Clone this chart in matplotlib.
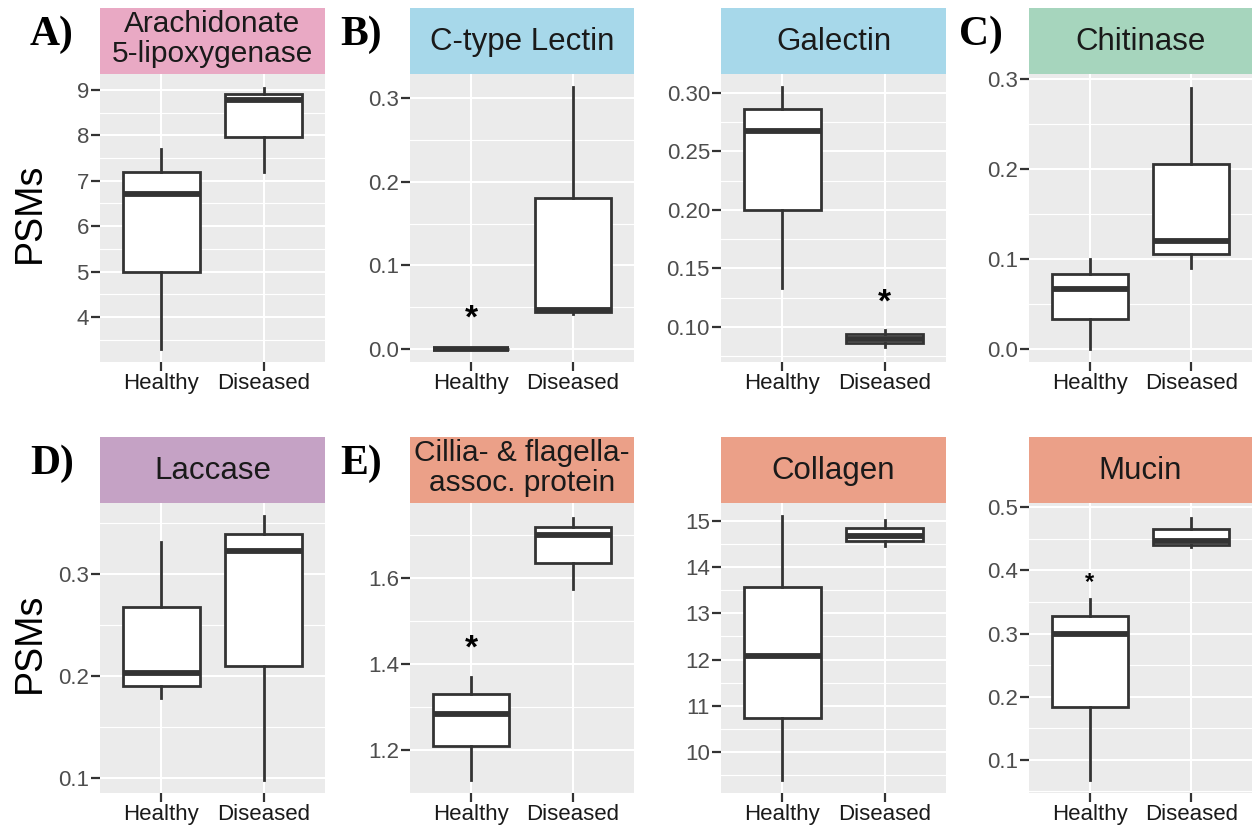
import matplotlib
matplotlib.use("Agg")
import matplotlib.pyplot as plt
from matplotlib.ticker import AutoMinorLocator, FixedLocator

# ---------------- data ----------------
groups = ["Healthy", "Diseased"]

titles = ["Arachidonate\n5-lipoxygenase", "C-type Lectin", "Galectin", "Chitinase",
          "Laccase", "Cillia- & flagella-\nassoc. protein", "Collagen", "Mucin"]
panel_letters = ["A)", "B)", None, "C)", "D)", "E)", None, None]
strip_colors = ["#E9A9C4", "#A7D8EA", "#A7D8EA", "#A6D5BD",
                "#C5A2C5", "#EBA088", "#EBA088", "#EBA088"]

# per group: [whisker low, Q1, median, Q3, whisker high]
arachidonate_healthy = [3.30, 5.00, 6.70, 7.20, 7.70]
arachidonate_diseased = [7.20, 7.97, 8.77, 8.92, 9.05]
ctype_healthy = [0.0, 0.0, 0.0, 0.0, 0.0]
ctype_diseased = [0.042, 0.044, 0.047, 0.181, 0.313]
galectin_healthy = [0.133, 0.200, 0.267, 0.286, 0.305]
galectin_diseased = [0.083, 0.086, 0.090, 0.094, 0.097]
chitinase_healthy = [0.000, 0.033, 0.067, 0.083, 0.100]
chitinase_diseased = [0.090, 0.105, 0.120, 0.205, 0.290]
laccase_healthy = [0.178, 0.190, 0.203, 0.268, 0.332]
laccase_diseased = [0.098, 0.210, 0.323, 0.340, 0.357]
cilia_healthy = [1.13, 1.21, 1.285, 1.33, 1.37]
cilia_diseased = [1.575, 1.635, 1.700, 1.720, 1.740]
collagen_healthy = [9.40, 10.73, 12.07, 13.58, 15.10]
collagen_diseased = [14.45, 14.57, 14.67, 14.85, 15.02]
mucin_healthy = [0.068, 0.183, 0.300, 0.327, 0.354]
mucin_diseased = [0.437, 0.441, 0.447, 0.465, 0.483]

series = [
    (arachidonate_healthy, arachidonate_diseased),
    (ctype_healthy, ctype_diseased),
    (galectin_healthy, galectin_diseased),
    (chitinase_healthy, chitinase_diseased),
    (laccase_healthy, laccase_diseased),
    (cilia_healthy, cilia_diseased),
    (collagen_healthy, collagen_diseased),
    (mucin_healthy, mucin_diseased),
]

y_ticks = [
    [4, 5, 6, 7, 8, 9],
    [0.0, 0.1, 0.2, 0.3],
    [0.10, 0.15, 0.20, 0.25, 0.30],
    [0.0, 0.1, 0.2, 0.3],
    [0.1, 0.2, 0.3],
    [1.2, 1.4, 1.6],
    [10, 11, 12, 13, 14, 15],
    [0.1, 0.2, 0.3, 0.4, 0.5],
]
y_tick_fmt = ["{:.0f}", "{:.1f}", "{:.2f}", "{:.1f}", "{:.1f}", "{:.1f}", "{:.0f}", "{:.1f}"]
y_limits = [(3.01, 9.35), (-0.0155, 0.329), (0.070, 0.316), (-0.0145, 0.3055),
            (0.085, 0.370), (1.10, 1.775), (9.11, 15.39), (0.047, 0.507)]

# significance markers: (group index, y value, size)
stars = [None, (0, 0.036, 24), (1, 0.120, 24), None,
         None, (0, 1.434, 24), None, (0, 0.381, 17)]

# ---------------- layout (pixels) ----------------
W, H = 1253, 831
fig = plt.figure(figsize=(W / 100, H / 100), dpi=100)
fig.patch.set_facecolor("white")

cols = [(100, 325), (410, 634), (721, 946), (1029, 1252)]
rows = [(8, 74, 362), (437, 503, 793)]  # strip top, panel top, panel bottom

FONT = "Liberation Sans"
BOXC = "#333333"


def ax_rect(x0, x1, ytop, ybot):
    return [x0 / W, 1 - ybot / H, (x1 - x0) / W, (ybot - ytop) / H]


for i in range(8):
    r, c = divmod(i, 4)
    x0, x1 = cols[c]
    st, pt, pb = rows[r]

    # strip
    sax = fig.add_axes(ax_rect(x0, x1, st, pt))
    sax.set_facecolor(strip_colors[i])
    sax.set_xticks([]); sax.set_yticks([])
    for s in sax.spines.values():
        s.set_visible(False)
    two_lines = "\n" in titles[i]
    sax.text(0.5, 0.53 if two_lines else 0.48, titles[i], ha="center", va="center",
             fontsize=21.5 if two_lines else 22.5,
             family=FONT, color="#1A1A1A", linespacing=1.13, transform=sax.transAxes)

    # panel
    ax = fig.add_axes(ax_rect(x0, x1, pt, pb))
    ax.set_facecolor("#EBEBEB")
    for s in ax.spines.values():
        s.set_visible(False)
    ax.set_xlim(0.4, 2.6)
    ax.set_ylim(*y_limits[i])
    ax.yaxis.set_major_locator(FixedLocator(y_ticks[i]))
    ax.yaxis.set_minor_locator(AutoMinorLocator(2))
    ax.set_yticklabels([y_tick_fmt[i].format(v) for v in y_ticks[i]])
    ax.grid(True, which="major", color="white", lw=1.5)
    ax.grid(True, which="minor", axis="y", color="white", lw=0.8)
    ax.set_axisbelow(True)
    ax.tick_params(axis="both", which="major", length=6.5, width=1.6, color=BOXC,
                   labelsize=16, pad=1.5)
    ax.tick_params(axis="y", which="minor", length=0)
    ax.tick_params(axis="y", labelcolor="#4D4D4D")
    ax.tick_params(axis="x", labelcolor="#1A1A1A")

    stats = []
    for g, vals in zip(groups, series[i]):
        lo, q1, med, q3, hi = vals
        stats.append(dict(label=g, whislo=lo, q1=q1, med=med, q3=q3, whishi=hi, fliers=[]))
    ax.bxp(stats, positions=[1, 2], widths=0.75, showcaps=False, showfliers=False,
           patch_artist=True,
           boxprops=dict(facecolor="white", edgecolor=BOXC, linewidth=2.0),
           whiskerprops=dict(color=BOXC, linewidth=2.0),
           medianprops=dict(color=BOXC, linewidth=4.2, solid_capstyle="butt"))
    ax.set_xticks([1, 2])
    ax.set_xticklabels(groups)
    for lab in ax.get_xticklabels() + ax.get_yticklabels():
        lab.set_family(FONT)

    if stars[i] is not None:
        gi, yv, sz = stars[i]
        ax.text(gi + 1, yv, "*", ha="center", va="center", fontsize=sz,
                family=FONT, fontweight="bold", color="black")

    if panel_letters[i]:
        fig.text((x0 - 70) / W, 1 - (st + 27) / H, panel_letters[i], fontsize=30,
                 family="Liberation Serif", fontweight="bold", ha="left", va="center")

    if c == 0:
        fig.text(30 / W, 1 - ((pt + pb) / 2 - 5) / H, "PSMs", rotation=90, fontsize=27,
                 family=FONT, ha="center", va="center", color="black")

fig.savefig("out.png", dpi=100, facecolor="white")
